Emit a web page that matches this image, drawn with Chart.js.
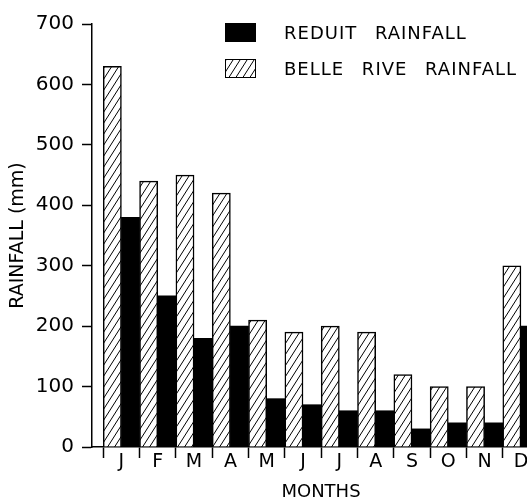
<!DOCTYPE html>
<html>
<head>
<meta charset="utf-8">
<script src="https://cdn.jsdelivr.net/npm/chart.js@4/dist/chart.umd.min.js"></script>
<style>
  html, body { margin: 0; padding: 0; background: #fff; overflow: hidden; }
  #wrap { position: relative; width: 560px; height: 501px; }
  #myChart { display: block; }
  #legend { position: absolute; left: 225px; top: 23px; font-family: "DejaVu Sans", sans-serif;
            font-size: 18px; letter-spacing: 1px; word-spacing: 11px; color: #000; }
  .row { position: absolute; left: 0; height: 19px; white-space: nowrap; }
  .box { position: absolute; left: 0; top: 0; width: 31px; height: 19px; box-sizing: border-box; border: 1.5px solid #000; }
  .txt { position: absolute; left: 59px; top: -1px; line-height: 22px; }
</style>
</head>
<body>
<div id="wrap">
  <canvas id="myChart" width="560" height="501"></canvas>
  <div id="legend">
    <div class="row" style="top:0px"><div class="box" style="background:#000"></div><span class="txt">REDUIT RAINFALL</span></div>
    <div class="row" style="top:36px"><div class="box" id="hatchBox"></div><span class="txt">BELLE RIVE RAINFALL</span></div>
  </div>
</div>
<script>
const months = ['J', 'F', 'M', 'A', 'M', 'J', 'J', 'A', 'S', 'O', 'N', 'D'];
const reduitRain = [380, 250, 180, 200, 80, 70, 60, 60, 30, 40, 40, 200];
const belleRiveRain = [630, 440, 450, 420, 210, 190, 200, 190, 120, 100, 100, 300];
const yTicks = [0, 100, 200, 300, 400, 500, 600, 700];

// diagonal hatching, like the printed figure
function makeHatch() {
    const c = document.createElement('canvas');
    c.width = 7;
    c.height = 11;
    const g = c.getContext('2d');
    g.fillStyle = '#fff';
    g.fillRect(0, 0, c.width, c.height);
    g.strokeStyle = '#000';
    g.lineWidth = 1;
    for (let k = -1; k <= 1; k++) {
        g.beginPath();
        g.moveTo(k * c.width, c.height);
        g.lineTo(k * c.width + c.width, 0);
        g.stroke();
    }
    return c;
}
const hatchCanvas = makeHatch();
const hatch = document.getElementById('myChart').getContext('2d').createPattern(hatchCanvas, 'repeat');
document.getElementById('hatchBox').style.backgroundImage = 'url(' + hatchCanvas.toDataURL() + ')';

const font = { family: '"DejaVu Sans", sans-serif' };

new Chart(document.getElementById('myChart'), {
    type: 'bar',
    data: {
        datasets: [{
            label: 'BELLE RIVE RAINFALL',
            data: belleRiveRain.map((v, i) => ({ x: i + 1, y: v })),
            backgroundColor: hatch,
            borderColor: '#000',
            borderWidth: 1.5,
            categoryPercentage: 1,
            barPercentage: 1
        }, {
            label: 'REDUIT RAINFALL',
            data: reduitRain.map((v, i) => ({ x: i + 1, y: v })),
            backgroundColor: '#000',
            borderWidth: 0,
            categoryPercentage: 1,
            barPercentage: 1
        }]
    },
    options: {
        responsive: false,
        maintainAspectRatio: false,
        animation: false,
        layout: { padding: { top: 24, right: 10, bottom: 0, left: 0 } },
        plugins: {
            legend: { display: false },
            tooltip: { enabled: false }
        },
        scales: {
            x: {
                type: 'linear',
                offset: false,
                min: 0.19,
                max: 12.8,
                bounds: 'data',
                afterBuildTicks: (axis) => { axis.ticks = months.map((m, i) => ({ value: i + 1 })); },
                afterFit: (axis) => { axis.height = 54; },
                border: { display: true, color: '#000', width: 1.5 },
                grid: {
                    offset: true,
                    drawOnChartArea: false,
                    drawTicks: true,
                    tickLength: 11,
                    tickColor: '#000',
                    tickWidth: 1.5
                },
                ticks: {
                    autoSkip: false,
                    maxRotation: 0,
                    padding: -7,
                    color: '#000',
                    font: { ...font, size: 19 },
                    callback: (v) => months[v - 1]
                },
                title: {
                    display: true,
                    text: 'MONTHS',
                    color: '#000',
                    font: { ...font, size: 18, lineHeight: 1 },
                    padding: { top: 0, bottom: 0 }
                }
            },
            y: {
                min: 0,
                max: 700,
                afterBuildTicks: (axis) => { axis.ticks = yTicks.map(v => ({ value: v })); },
                afterFit: (axis) => { axis.width = 92; },
                border: { display: true, color: '#000', width: 1.5 },
                grid: {
                    drawOnChartArea: false,
                    drawTicks: true,
                    tickLength: 10,
                    tickColor: '#000',
                    tickWidth: 1.5
                },
                ticks: {
                    padding: 8,
                    color: '#000',
                    font: { ...font, size: 20 }
                },
                title: {
                    display: true,
                    text: 'RAINFALL (mm)',
                    color: '#000',
                    font: { ...font, size: 19, lineHeight: 1 },
                    padding: { top: 9, bottom: 0 }
                }
            }
        }
    }
});
</script>
</body>
</html>
